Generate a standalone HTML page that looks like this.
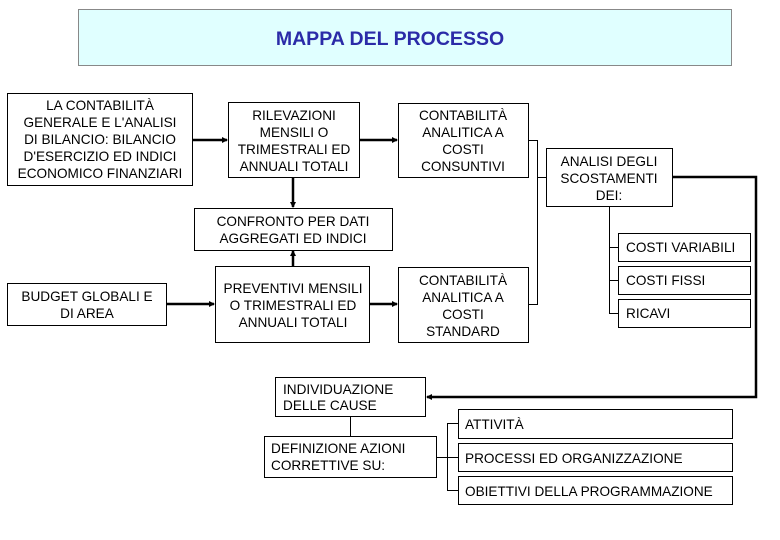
<!DOCTYPE html>
<html><head><meta charset="utf-8"><style>
body{margin:0;background:#fff}
svg{display:block;font-family:"Liberation Sans",sans-serif}
text{font-size:13.6px;fill:#000}
.b{fill:#fff;stroke:#000;stroke-width:1}
.l{stroke:#000;stroke-width:1;fill:none}
.t{stroke:#000;stroke-width:2.5;fill:none}
</style></head><body>
<svg width="780" height="540" viewBox="0 0 780 540">
<defs><marker id="a" markerWidth="6" markerHeight="6" refX="5" refY="3" orient="auto" markerUnits="userSpaceOnUse"><path d="M0,0 L6,3 L0,6z" fill="#000"/></marker></defs>
<rect x="78.5" y="9.5" width="653" height="56" fill="#e0ffff" stroke="#888"/>
<text x="390" y="45" text-anchor="middle" style="font-size:19.5px;fill:#2b2ba8;font-weight:bold">MAPPA DEL PROCESSO</text>

<line class="t" x1="192" y1="140" x2="227" y2="140" marker-end="url(#a)"/>
<line class="t" x1="359" y1="140" x2="397" y2="140" marker-end="url(#a)"/>
<line class="t" x1="293" y1="177" x2="293" y2="207" marker-end="url(#a)"/>
<line class="t" x1="293" y1="266" x2="293" y2="251" marker-end="url(#a)"/>
<line class="t" x1="166" y1="304" x2="214" y2="304" marker-end="url(#a)"/>
<line class="t" x1="369" y1="304" x2="397" y2="304" marker-end="url(#a)"/>
<path class="l" d="M528,140.5 H537.5 V304.5 H528 M537.5,177.5 H546"/>
<path class="l" d="M609.5,206 V313.5 H618 M609.5,247.5 H618 M609.5,280.5 H618"/>
<path class="t" d="M672,177 H756 V397 H427" marker-end="url(#a)"/>
<line class="l" x1="350.5" y1="416" x2="350.5" y2="436"/>
<path class="l" d="M436,457.5 H447.5 M458,423.5 H447.5 V490.5 H458 M447.5,457.5 H458"/>

<rect class="b" x="7.5" y="93.5" width="185" height="92"/>
<text text-anchor="middle"><tspan x="100" y="110">LA CONTABILITÀ</tspan><tspan x="100" y="127">GENERALE E L'ANALISI</tspan><tspan x="100" y="144">DI BILANCIO: BILANCIO</tspan><tspan x="100" y="161">D'ESERCIZIO ED INDICI</tspan><tspan x="100" y="178">ECONOMICO FINANZIARI</tspan></text>
<rect class="b" x="228.5" y="102.5" width="131" height="75"/>
<text text-anchor="middle"><tspan x="294" y="120">RILEVAZIONI</tspan><tspan x="294" y="137">MENSILI O</tspan><tspan x="294" y="154">TRIMESTRALI ED</tspan><tspan x="294" y="171">ANNUALI TOTALI</tspan></text>
<rect class="b" x="194.5" y="208.5" width="198" height="42"/>
<text text-anchor="middle"><tspan x="293" y="226">CONFRONTO PER DATI</tspan><tspan x="293" y="243">AGGREGATI ED INDICI</tspan></text>
<rect class="b" x="7.5" y="283.5" width="159" height="42"/>
<text text-anchor="middle"><tspan x="87" y="301">BUDGET GLOBALI E</tspan><tspan x="87" y="318">DI AREA</tspan></text>
<rect class="b" x="215.5" y="266.5" width="154" height="76"/>
<text text-anchor="middle"><tspan x="293" y="293">PREVENTIVI MENSILI</tspan><tspan x="293" y="310">O TRIMESTRALI ED</tspan><tspan x="293" y="327">ANNUALI TOTALI</tspan></text>
<rect class="b" x="398.5" y="103.5" width="130" height="74"/>
<text text-anchor="middle"><tspan x="463" y="120">CONTABILITÀ</tspan><tspan x="463" y="137">ANALITICA A</tspan><tspan x="463" y="154">COSTI</tspan><tspan x="463" y="171">CONSUNTIVI</tspan></text>
<rect class="b" x="398.5" y="267.5" width="130" height="75"/>
<text text-anchor="middle"><tspan x="463" y="285">CONTABILITÀ</tspan><tspan x="463" y="302">ANALITICA A</tspan><tspan x="463" y="319">COSTI</tspan><tspan x="463" y="336">STANDARD</tspan></text>
<rect class="b" x="546.5" y="148.5" width="126" height="58"/>
<text text-anchor="middle"><tspan x="609" y="166">ANALISI DEGLI</tspan><tspan x="609" y="183">SCOSTAMENTI</tspan><tspan x="609" y="200">DEI:</tspan></text>
<rect class="b" x="618.5" y="233.5" width="132" height="28"/><text x="626" y="252">COSTI VARIABILI</text>
<rect class="b" x="618.5" y="266.5" width="132" height="28"/><text x="626" y="285">COSTI FISSI</text>
<rect class="b" x="618.5" y="299.5" width="132" height="28"/><text x="626" y="318">RICAVI</text>
<rect class="b" x="275.5" y="377.5" width="150" height="39"/>
<text><tspan x="283" y="394">INDIVIDUAZIONE</tspan><tspan x="283" y="410">DELLE CAUSE</tspan></text>
<rect class="b" x="264.5" y="436.5" width="172" height="41"/>
<text><tspan x="271" y="453">DEFINIZIONE AZIONI</tspan><tspan x="271" y="470">CORRETTIVE SU:</tspan></text>
<rect class="b" x="458.5" y="409.5" width="274" height="29"/><text x="465" y="429">ATTIVITÀ</text>
<rect class="b" x="458.5" y="443.5" width="274" height="28"/><text x="465" y="463">PROCESSI ED ORGANIZZAZIONE</text>
<rect class="b" x="458.5" y="476.5" width="274" height="28"/><text x="465" y="496">OBIETTIVI DELLA PROGRAMMAZIONE</text>
</svg>
</body></html>
